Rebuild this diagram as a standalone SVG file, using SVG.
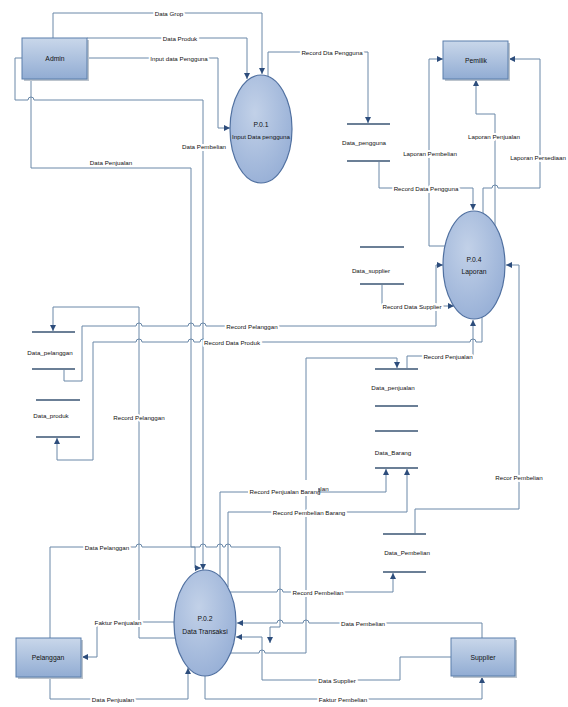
<svg xmlns="http://www.w3.org/2000/svg" width="568" height="707" viewBox="0 0 568 707">
<style>
.c{fill:none;stroke:#6a88a8;stroke-width:1}
.s{stroke:#6b7f96;stroke-width:2}
.t{font-family:"Liberation Sans",Arial,sans-serif;font-size:6.2px;fill:#111;text-anchor:middle;dominant-baseline:central}
.n{font-size:6.8px}
.l{paint-order:stroke;stroke:#fff;stroke-width:4px;stroke-linejoin:round}
.r{fill:url(#gr);stroke:#5b7eab;stroke-width:1}
.e{fill:url(#ge);stroke:#5070a0;stroke-width:1.2}
.sh{fill:#bcc4cd}
</style>
<defs>
<linearGradient id="gr" x1="0" y1="0" x2="0" y2="1"><stop offset="0" stop-color="#c9d7ea"/><stop offset="1" stop-color="#91acd3"/></linearGradient>
<radialGradient id="ge" cx="0.4" cy="0.35" r="0.75"><stop offset="0" stop-color="#c2d1e8"/><stop offset="1" stop-color="#94add5"/></radialGradient>
<marker id="a" viewBox="0 0 10 10" refX="10" refY="5" markerWidth="6" markerHeight="6" orient="auto" markerUnits="userSpaceOnUse"><path d="M0,0 L10,5 L0,10 z" fill="#2d4d7c"/></marker>
</defs>

<g id="connectors">
<path class="c" marker-end="url(#a)" d="M53,38 V13 H262 V74"/>
<path class="c" marker-end="url(#a)" d="M87,38 H247 V79"/>
<path class="c" marker-end="url(#a)" d="M87,58 H218 V128 H230"/>
<path class="c" marker-end="url(#a)" d="M22,58 H15 V100 H28 A3,3 0 0 1 34,100 H203 V570"/>
<path class="c" marker-end="url(#a)" d="M31,79 V168 H191 V547 H195 V568 H201"/>
<path class="c" marker-end="url(#a)" d="M268,77 V52 H368 V123"/>
<path class="c" marker-end="url(#a)" d="M379,162 V188 H473 V210"/>
<path class="c" marker-end="url(#a)" d="M445,246 H429 V59 H443"/>
<path class="c" marker-end="url(#a)" d="M495,226 V114 H476 V80"/>
<path class="c" marker-end="url(#a)" d="M483,213 V188 H492 A3,3 0 0 1 498,188 H540 V59 H509"/>
<path class="c" marker-end="url(#a)" d="M382,285 V306 H454"/>
<path class="c" marker-end="url(#a)" d="M64,370 V381 H82 V326 H136 A3,3 0 0 1 142,326 H188 A3,3 0 0 1 194,326 H200 A3,3 0 0 1 206,326 H436 V265 H443"/>
<path class="c" marker-end="url(#a)" d="M482,317 V342 H476 A3,3 0 0 0 470,342 H206 A3,3 0 0 0 200,342 H194 A3,3 0 0 0 188,342 H142 A3,3 0 0 0 136,342 H93 V460 H57 V438"/>
<path class="c" marker-end="url(#a)" d="M407,369 V356 H473 V320"/>
<path class="c" marker-end="url(#a)" d="M231,653 H259 A3,3 0 0 1 265,653 H306 V358 H397 V368"/>
<path class="c" marker-end="url(#a)" d="M220,577 V492 H386 V469"/>
<path class="c" marker-end="url(#a)" d="M228,587 V512 H407 V469"/>
<path class="c" marker-end="url(#a)" d="M230,592 H277 A3,3 0 0 1 283,592 H393 V573"/>
<path class="c" marker-end="url(#a)" d="M482,638 V623 H309 A3,3 0 0 0 303,623 H283 A3,3 0 0 0 277,623 H237"/>
<path class="c" marker-end="url(#a)" d="M451,657 H400 V680 H262 V637 H236"/>
<path class="c" marker-end="url(#a)" d="M205,676 V699 H482 V677"/>
<path class="c" marker-end="url(#a)" d="M50,677 V699 H188 V668"/>
<path class="c" marker-end="url(#a)" d="M175,622 H97 V657 H82"/>
<path class="c" marker-end="url(#a)" d="M176,638 H139 V307 H53 V331"/>
<path class="c" marker-end="url(#a)" d="M50,638 V547 H136 A3,3 0 0 1 142,547 H200 A3,3 0 0 1 206,547 H217 A3,3 0 0 1 223,547 H225 A3,3 0 0 1 231,547 H280 V627 H270 V643"/>
<path class="c" marker-end="url(#a)" d="M415,534 V509 H519 V265 H506"/>

<text class="t l" x="169" y="13">Data Grop</text>
<text class="t l" x="180" y="38">Data Produk</text>
<text class="t l" x="179" y="58">Input data Pengguna</text>
<text class="t l" x="204" y="146">Data Pembelian</text>
<text class="t" x="111" y="162">Data Penjualan</text>
<text class="t l" x="332" y="52">Record Dta Pengguna</text>
<text class="t l" x="426" y="188">Record Data Pengguna</text>
<text class="t l" x="430" y="153">Laporan Pembelian</text>
<text class="t l" x="494" y="136">Laporan Penjualan</text>
<text class="t l" x="538" y="157">Laporan Persediaan</text>
<text class="t l" x="412" y="306">Record Data Supplier</text>
<text class="t l" x="252" y="326">Record Pelanggan</text>
<text class="t l" x="232" y="342">Record Data Produk</text>
<text class="t l" x="448" y="356">Record Penjualan</text>
<text class="t l" x="139" y="417">Record Pelanggan</text>
<text class="t" x="304" y="488">Record Penjualan</text>
<rect x="248" y="480" width="70" height="16" fill="#fff"/>
<text class="t" x="285" y="491">Record Penjualan Barang</text>
<text class="t l" x="309" y="512">Record Pembelian Barang</text>
<text class="t l" x="519" y="477">Recor Pembelian</text>
<text class="t l" x="107" y="547">Data Pelanggan</text>
<text class="t l" x="318" y="592">Record Pembelian</text>
<text class="t l" x="118" y="622">Faktur Penjualan</text>
<text class="t l" x="363" y="623">Data Pembelian</text>
<text class="t l" x="337" y="680">Data Supplier</text>
<text class="t l" x="113" y="699">Data Penjualan</text>
<text class="t l" x="343" y="699">Faktur Pembelian</text>
</g>

<g id="admin"><rect class="sh" x="24" y="40" width="65" height="41"/><rect class="r" x="22" y="38" width="65" height="41"/><text class="t n" x="55" y="58">Admin</text></g>
<g id="pemilik"><rect class="sh" x="445" y="43" width="65" height="38"/><rect class="r" x="443" y="41" width="65" height="38"/><text class="t n" x="476" y="60">Pemilik</text></g>
<g id="pelanggan"><rect class="sh" x="18" y="640" width="65" height="39"/><rect class="r" x="16" y="638" width="65" height="39"/><text class="t n" x="48" y="657">Pelanggan</text></g>
<g id="supplier"><rect class="sh" x="453" y="640" width="64" height="38"/><rect class="r" x="451" y="638" width="64" height="38"/><text class="t n" x="483" y="657">Supplier</text></g>

<g id="p01"><ellipse class="e" cx="261" cy="129" rx="31" ry="54"/><text class="t n" x="261" y="124">P.0.1</text><text class="t" x="261" y="136">Input Data pengguna</text></g>
<g id="p04"><ellipse class="e" cx="474" cy="265" rx="31" ry="54"/><text class="t n" x="474" y="259">P.0.4</text><text class="t n" x="474" y="271">Laporan</text></g>
<g id="p02"><ellipse class="e" cx="205" cy="623" rx="31" ry="53"/><text class="t n" x="205" y="618">P.0.2</text><text class="t n" x="205" y="631">Data Transaksi</text></g>

<g id="ds_pengguna"><line class="s" x1="347" y1="124" x2="390" y2="124"/><line class="s" x1="347" y1="161" x2="390" y2="161"/><text class="t" x="364" y="142">Data_pengguna</text></g>
<g id="ds_supplier"><line class="s" x1="360" y1="247" x2="404" y2="247"/><line class="s" x1="360" y1="284" x2="404" y2="284"/><text class="t" x="371" y="270">Data_supplier</text></g>
<g id="ds_pelanggan"><line class="s" x1="32" y1="332" x2="75" y2="332"/><line class="s" x1="32" y1="369" x2="75" y2="369"/><text class="t" x="50" y="352">Data_pelanggan</text></g>
<g id="ds_produk"><line class="s" x1="36" y1="400" x2="80" y2="400"/><line class="s" x1="36" y1="437" x2="80" y2="437"/><text class="t" x="51" y="415">Data_produk</text></g>
<g id="ds_penjualan"><line class="s" x1="375" y1="369" x2="418" y2="369"/><line class="s" x1="375" y1="406" x2="418" y2="406"/><text class="t" x="393" y="387">Data_penjualan</text></g>
<g id="ds_barang"><line class="s" x1="375" y1="431" x2="418" y2="431"/><line class="s" x1="375" y1="468" x2="418" y2="468"/><text class="t" x="393" y="452">Data_Barang</text></g>
<g id="ds_pembelian"><line class="s" x1="383" y1="534" x2="426" y2="534"/><line class="s" x1="383" y1="572" x2="426" y2="572"/><text class="t" x="407" y="552">Data_Pembelian</text></g>
</svg>
